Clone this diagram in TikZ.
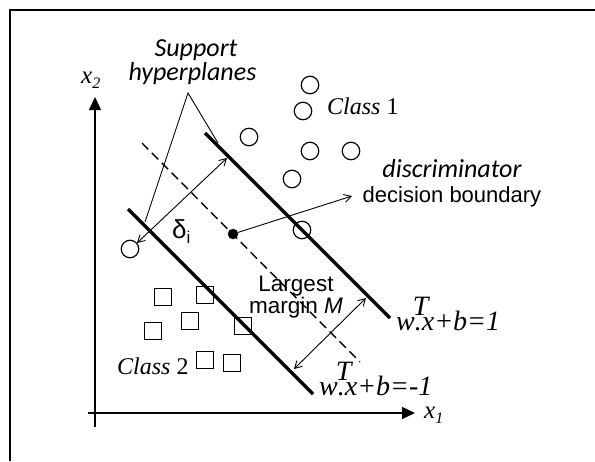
\documentclass[tikz,border=0pt]{standalone}
\usepackage{fontspec}
\setmainfont{Liberation Serif}
\setsansfont{Liberation Sans}
\newfontfamily\humfont{Carlito}
\usetikzlibrary{arrows.meta}
\newcommand{\supT}{\makebox[0pt][l]{\kern-2pt\raisebox{15pt}{T}}}
\begin{document}
\begin{tikzpicture}[x=1pt,y=-1pt,
  pt1/.style={draw,circle,minimum size=17.5pt,inner sep=0pt,line width=1.2pt},
  pt2/.style={draw,rectangle,minimum size=17pt,inner sep=0pt,line width=1.1pt},
  hyper/.style={line width=3.2pt},
  midline/.style={line width=1.4pt,dash pattern=on 9pt off 5pt},
  thin/.style={line width=0.9pt},
  barb/.style={line width=0.9pt,-{Straight Barb[length=7pt,width=8pt,line width=0.9pt]}},
  dbarb/.style={line width=0.9pt,{Straight Barb[length=7pt,width=8pt,line width=0.9pt]}-{Straight Barb[length=7pt,width=8pt,line width=0.9pt]}},
  axis/.style={line width=1.2pt,-{Triangle[width=12pt,length=13pt]}},
  lbl/.style={inner sep=0pt,anchor=base}
]
\useasboundingbox (0,0) rectangle (595,461);
% frame
\draw[line width=2pt] (10,461) -- (10,10) -- (595,10);
% axes
\coordinate (yb) at (95,427); \coordinate (yt) at (95,97);
\coordinate (xl) at (88,413); \coordinate (xr) at (415,413);
\draw[axis] (yb) -- (yt);
\draw[axis] (xl) -- (xr);
\node[lbl,anchor=base west] (x2) at (81,83) {\fontsize{25}{27}\selectfont\itshape x\raisebox{-5pt}{\fontsize{16}{18}\selectfont 2}};
\node[lbl,anchor=base west] (x1) at (424,418) {\fontsize{25}{27}\selectfont\itshape x\raisebox{-5pt}{\fontsize{16}{18}\selectfont 1}};
% hyperplanes
\coordinate (u1) at (205,133); \coordinate (u2) at (390,318);
\coordinate (l1) at (128,209); \coordinate (l2) at (313,394);
\coordinate (m1) at (142,143); \coordinate (m2) at (360,362);
\draw[midline] (m1) -- (m2);
\draw[hyper] (u1) -- (u2);
\draw[hyper] (l1) -- (l2);
% class 1 points
\node[pt1] (c1) at (310,85) {};
\node[pt1] (c2) at (303,111) {};
\node[pt1] (c3) at (249,137) {};
\node[pt1] (c4) at (310,151) {};
\node[pt1] (c5) at (351,151) {};
\node[pt1] (c6) at (292,179) {};
\node[pt1] (c7) at (302,230) {};
\node[pt1] (c8) at (130,249) {};
% class 2 points
\node[pt2] (s1) at (163,297) {};
\node[pt2] (s2) at (205,295) {};
\node[pt2] (s3) at (190,321) {};
\node[pt2] (s4) at (153,331) {};
\node[pt2] (s5) at (243,326) {};
\node[pt2] (s6) at (205,360) {};
\node[pt2] (s7) at (232,363) {};
% decision point
\node[draw,fill,circle,minimum size=10pt,inner sep=0pt] (dot) at (233,234) {};
% labels
\node[lbl,align=center,font=\humfont\itshape\fontsize{26}{25}\selectfont] (sup) at (196,80) {Support\\[-1pt]\kern-7pt hyperplanes};
\coordinate (apex) at (188,93);
\coordinate (hu) at (218,143);
\coordinate (hl) at (145,222);
\draw[thin] (hu) -- (apex) -- (hl);
\node[lbl,anchor=base west] (cl1) at (327,114) {\fontsize{24}{26}\selectfont\textit{Class} 1};
\node[lbl,anchor=base west] (cl2) at (117,374) {\fontsize{24}{26}\selectfont\textit{Class} 2};
\node[lbl] (disc) at (452,177) {\humfont\itshape\fontsize{26}{28}\selectfont discriminator};
\node[lbl] (dec) at (452,202) {\sffamily\fontsize{22}{24}\selectfont decision boundary};
\coordinate (decend) at (352,196);
\draw[barb] (dot) -- (decend);
\node[lbl,align=center,font=\sffamily\fontsize{22.5}{20}\selectfont] (lg) at (296,313) {Largest\\margin \textit{M}};
\node[lbl,anchor=base west] (del) at (172,238) {\sffamily\fontsize{26}{28}\selectfont δ\raisebox{-5pt}{\fontsize{17}{19}\selectfont i}};
% arrows
\coordinate (da) at (227,158); \coordinate (db) at (137,243);
\draw[dbarb] (db) -- (da);
\coordinate (ma) at (294,369); \coordinate (mb) at (366,298);
\draw[dbarb] (ma) -- (mb);
% equations
\node[lbl,anchor=base west] (eq1) at (396,330) {\fontsize{28}{30}\selectfont\itshape w\supT.x+b=1};
\node[lbl,anchor=base west] (eq2) at (319,395) {\fontsize{28}{30}\selectfont\itshape w\supT.x+b=-1};
\end{tikzpicture}
\end{document}
